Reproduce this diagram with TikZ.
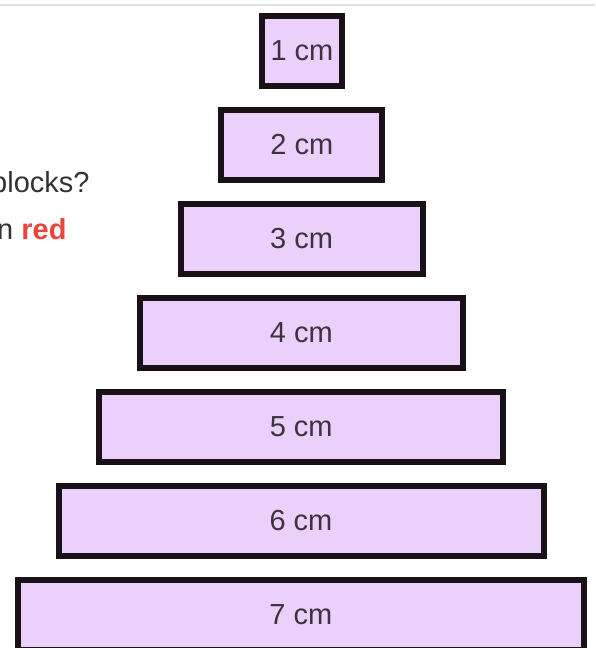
\documentclass[tikz,border=0pt]{standalone}
\usepackage{fontspec}
\setmainfont{Liberation Sans}
\usetikzlibrary{positioning}

\definecolor{blockfill}{HTML}{EAD0FA}
\definecolor{blockline}{HTML}{1A1018}
\definecolor{labeltext}{HTML}{3B3340}
\definecolor{asktext}{HTML}{333333}
\definecolor{askred}{HTML}{E8453C}

\begin{document}
\begin{tikzpicture}[
    x=1pt, y=1pt,
    blockbox/.style={rectangle, draw=blockline, fill=blockfill, line width=6pt,
        minimum height=70pt, inner sep=0pt, text=labeltext,
        font=\fontsize{29}{32}\selectfont},
    asknode/.style={anchor=base west, inner sep=0pt, text=asktext,
        font=\fontsize{29}{32}\selectfont}
]
\useasboundingbox (0,0) rectangle (595,-648);

% top rule
\draw[gray!25, line width=1.5pt] (0,-5) -- (595,-5);

% the stacked blocks
\node[blockbox, minimum width=80pt] (b1) at (302,-51) {1 cm};
\foreach \i in {2,...,7} {
    \pgfmathtruncatemacro{\prev}{\i-1}
    \pgfmathsetmacro{\blockwd}{81*\i-1}
    \node[blockbox, minimum width=\blockwd pt, below=18pt of b\prev.south, anchor=north,
          xshift=-0.2pt] (b\i) {\i\ cm};
}

% question text (cut at the left edge)
\node[asknode] (ask1) at (-9,-192) {blocks?};
\node[asknode] (ask2) at (-3,-239) {n \textcolor{askred}{\textbf{red}}};

\end{tikzpicture}
\end{document}
